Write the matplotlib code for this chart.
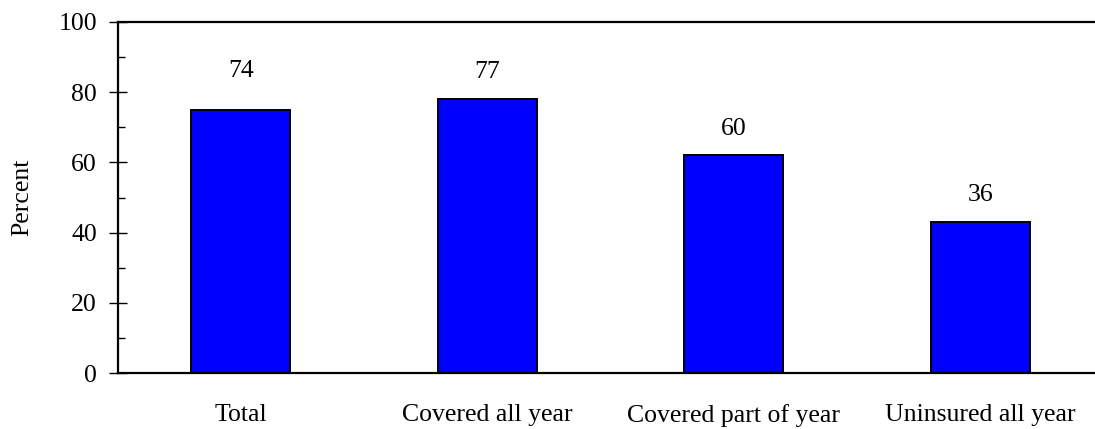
import matplotlib.pyplot as plt

# 字体设置
plt.rcParams.update({
    "font.family": 'serif',
    "font.serif": ['Liberation Serif', 'DejaVu Serif'],
    "font.size": 18.5,
})

# 数据
categories = ['Total', 'Covered all year', 'Covered part of year', 'Uninsured all year']
bar_values = [75, 78, 62, 43]      # 柱子高度
label_values = [74, 77, 60, 36]    # 柱顶标注的数字
yticks = [0, 20, 40, 60, 80, 100]

# 标注相对柱顶的偏移（布局）
label_offset = [11.1, 7.7, 7.4, 7.7]

fig = plt.figure(figsize=(10.95, 4.29), dpi=100)
# 坐标轴右侧略超出画布（原图右边框被裁掉）
ax = fig.add_axes([117.5 / 1095, (429 - 373.3) / 429, 986 / 1095, (373.3 - 21.7) / 429])

x = range(len(categories))
ax.bar(x, bar_values, width=0.4, color='#0000FF', edgecolor='black', linewidth=1.4, zorder=2)

for xi, v, lab, off in zip(x, bar_values, label_values, label_offset):
    ax.text(xi, v + off, str(lab), ha='center', va='center', fontsize=18.5)

ax.set_xlim(-0.5, 3.5)
ax.set_ylim(0, 100)
ax.set_yticks(yticks)
ax.set_yticks([10, 30, 50, 70, 90], minor=True)
ax.set_xticks(list(x))
ax.set_xticklabels(categories)

ax.tick_params(axis='y', which='major', direction='inout', length=12.5, width=1, pad=8.5)
ax.tick_params(axis='y', which='minor', direction='in', length=4.8, width=1)
ax.tick_params(axis='x', length=0, pad=22)

ax.set_ylabel('Percent', labelpad=18)

for s in ax.spines.values():
    s.set_linewidth(1.6)

fig.savefig('out.png', dpi=100)
